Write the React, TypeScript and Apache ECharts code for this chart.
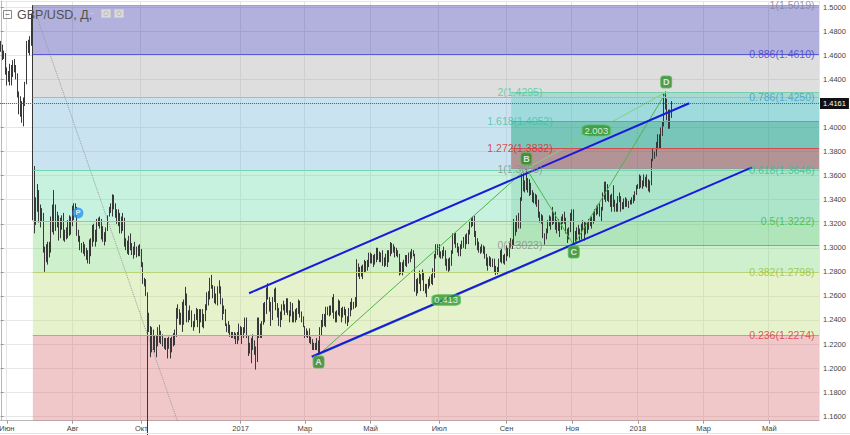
import React, { useEffect, useRef } from "react";
import * as echarts from "echarts";

// ---------- axis structure ----------
const FIRST_DAY_UTC = Date.UTC(2016, 4, 26); // first weekday slot: 2016-05-26
const SLOT_COUNT = 536; // weekday slots on the time axis (incl. empty future)
const Y_MIN = 1.15622;
const Y_MAX = 1.50524;

const tickMonths = ["2016-06", "2016-08", "2016-10", "2017-01", "2017-03", "2017-05", "2017-07", "2017-09", "2017-11", "2018-01", "2018-03", "2018-05"];
const tickLabels = ["Июн", "Авг", "Окт", "2017", "Мар", "Май", "Июл", "Сен", "Ноя", "2018", "Мар", "Май"];

// ---------- daily bars: close, high, low (x10000); open = previous close ----------
const firstOpen = 14640;
const dailyCHL: number[] = [
  /* 2016-05-26 */ 14660, 14720, 14630, 14590, 14690, 14560,
  /* 2016-05-30 */ 14610, 14640, 14570, 14480, 14620, 14440, 14410, 14500, 14350, 14430, 14470, 14380, 14520, 14530, 14350,
  /* 2016-06-06 */ 14430, 14520, 14350, 14510, 14560, 14420, 14500, 14570, 14460, 14440, 14520, 14400, 14260, 14450, 14250,
  /* 2016-06-13 */ 14240, 14300, 14110, 14120, 14260, 14090, 14200, 14220, 14040, 14190, 14250, 14010, 14360, 14380, 14180,
  /* 2016-06-20 */ 14690, 14720, 14550, 14680, 14730, 14620, 14720, 14760, 14600, 14880, 14950, 14680, 13680, 15019, 13229,
  /* 2016-06-27 */ 13220, 13680, 13120, 13370, 13420, 13190, 13430, 13530, 13300, 13310, 13480, 13210, 13280, 13360, 13170,
  /* 2016-07-04 */ 13280, 13330, 13220, 13000, 13290, 12960, 12940, 13010, 12800, 12920, 13030, 12880, 12950, 13050, 12860,
  /* 2016-07-11 */ 12990, 13050, 12920, 13250, 13260, 12960, 13170, 13360, 13130, 13340, 13480, 13110, 13190, 13360, 13140,
  /* 2016-07-18 */ 13250, 13300, 13170, 13100, 13270, 13060, 13220, 13250, 13080, 13220, 13270, 13150, 13110, 13290, 13060,
  /* 2016-07-25 */ 13130, 13150, 13050, 13120, 13170, 13070, 13200, 13230, 13080, 13150, 13270, 13100, 13230, 13260, 13110,
  /* 2016-08-01 */ 13230, 13350, 13180, 13340, 13370, 13230, 13330, 13370, 13260, 13140, 13340, 13100, 13100, 13150, 13050,
  /* 2016-08-08 */ 13040, 13100, 12980, 13010, 13040, 12960, 12980, 13050, 12950, 12970, 13030, 12930, 12950, 13000, 12900,
  /* 2016-08-15 */ 12920, 12980, 12870, 13060, 13070, 12866, 13020, 13080, 12930, 13180, 13190, 13010, 13070, 13200, 13050,
  /* 2016-08-22 */ 13070, 13150, 13010, 13230, 13240, 13050, 13220, 13250, 13180, 13220, 13260, 13160, 13170, 13240, 13070,
  /* 2016-08-29 */ 13080, 13180, 13050, 13080, 13130, 13020, 13150, 13170, 13050, 13260, 13270, 13140, 13300, 13340, 13260,
  /* 2016-09-05 */ 13320, 13370, 13290, 13420, 13445, 13260, 13340, 13440, 13320, 13300, 13370, 13250, 13270, 13320, 13200,
  /* 2016-09-12 */ 13260, 13320, 13180, 13170, 13290, 13120, 13250, 13260, 13120, 13240, 13290, 13140, 13060, 13250, 13010,
  /* 2016-09-19 */ 13040, 13080, 12980, 12990, 13060, 12950, 13030, 13100, 12940, 13030, 13120, 12980, 12970, 13040, 12940,
  /* 2016-09-26 */ 12990, 13010, 12910, 12980, 13050, 12940, 12970, 13010, 12920, 12970, 13020, 12930, 12970, 13030, 12930,
  /* 2016-10-03 */ 12850, 12990, 12840, 12710, 12880, 12700, 12720, 12750, 12680, 12610, 12740, 12600, 12430, 12630, 11425,
  /* 2016-10-10 */ 12340, 12460, 12300, 12190, 12350, 12090, 12300, 12340, 12130, 12190, 12320, 12150, 12190, 12270, 12130,
  /* 2016-10-17 */ 12230, 12270, 12090, 12330, 12340, 12180, 12270, 12360, 12210, 12230, 12310, 12200, 12200, 12280, 12180,
  /* 2016-10-24 */ 12220, 12250, 12160, 12180, 12250, 12150, 12230, 12250, 12080, 12200, 12260, 12160, 12140, 12250, 12080,
  /* 2016-10-31 */ 12240, 12260, 12130, 12220, 12290, 12180, 12310, 12320, 12190, 12480, 12500, 12260, 12490, 12530, 12410,
  /* 2016-11-07 */ 12390, 12480, 12360, 12390, 12460, 12360, 12470, 12550, 12300, 12520, 12570, 12360, 12590, 12675, 12530,
  /* 2016-11-14 */ 12460, 12620, 12380, 12440, 12480, 12380, 12470, 12520, 12400, 12390, 12480, 12340, 12340, 12390, 12310,
  /* 2016-11-21 */ 12420, 12450, 12340, 12460, 12500, 12400, 12360, 12490, 12340, 12470, 12490, 12290, 12470, 12490, 12380,
  /* 2016-11-28 */ 12370, 12490, 12340, 12420, 12450, 12330, 12500, 12530, 12390, 12620, 12630, 12480, 12580, 12640, 12520,
  /* 2016-12-05 */ 12720, 12750, 12570, 12680, 12775, 12660, 12630, 12690, 12580, 12580, 12680, 12540, 12550, 12620, 12530,
  /* 2016-12-12 */ 12640, 12680, 12520, 12650, 12730, 12620, 12580, 12680, 12530, 12480, 12560, 12400, 12490, 12520, 12450,
  /* 2016-12-19 */ 12360, 12490, 12350, 12330, 12370, 12300, 12350, 12390, 12290, 12270, 12360, 12260, 12280, 12300, 12250,
  /* 2016-12-26 */ 12270, 12300, 12250, 12290, 12300, 12240, 12230, 12290, 12200, 12270, 12300, 12200, 12340, 12370, 12230,
  /* 2017-01-02 */ 12280, 12350, 12270, 12270, 12340, 12200, 12290, 12340, 12250, 12410, 12420, 12300, 12270, 12420, 12250,
  /* 2017-01-09 */ 12180, 12240, 12100, 12170, 12210, 12120, 12190, 12250, 12040, 12170, 12280, 12150, 12180, 12230, 12110,
  /* 2017-01-16 */ 12060, 12090, 11987, 12400, 12420, 12050, 12290, 12420, 12250, 12340, 12370, 12250, 12370, 12390, 12250,
  /* 2017-01-23 */ 12540, 12540, 12360, 12470, 12550, 12380, 12660, 12670, 12450, 12590, 12705, 12570, 12540, 12590, 12470,
  /* 2017-01-30 */ 12410, 12550, 12350, 12580, 12590, 12400, 12620, 12660, 12550, 12510, 12670, 12480, 12490, 12540, 12420,
  /* 2017-02-06 */ 12400, 12500, 12350, 12460, 12470, 12340, 12500, 12530, 12400, 12500, 12560, 12480, 12500, 12530, 12440,
  /* 2017-02-13 */ 12570, 12580, 12460, 12460, 12580, 12440, 12460, 12480, 12380, 12520, 12550, 12430, 12410, 12540, 12380,
  /* 2017-02-20 */ 12430, 12470, 12380, 12460, 12490, 12380, 12460, 12500, 12400, 12550, 12570, 12450, 12470, 12560, 12420,
  /* 2017-02-27 */ 12410, 12470, 12380, 12350, 12430, 12340, 12300, 12350, 12250, 12290, 12330, 12260, 12290, 12310, 12250,
  /* 2017-03-06 */ 12230, 12330, 12210, 12210, 12260, 12200, 12170, 12240, 12150, 12170, 12210, 12150, 12160, 12210, 12150,
  /* 2017-03-13 */ 12200, 12250, 12150, 12120, 12230, 12109, 12300, 12340, 12120, 12370, 12400, 12270, 12440, 12450, 12340,
  /* 2017-03-20 */ 12370, 12450, 12350, 12470, 12510, 12340, 12480, 12510, 12440, 12490, 12520, 12430, 12470, 12520, 12440,
  /* 2017-03-27 */ 12580, 12590, 12460, 12460, 12615, 12410, 12400, 12470, 12380, 12450, 12480, 12380, 12550, 12570, 12440,
  /* 2017-04-03 */ 12490, 12560, 12430, 12420, 12500, 12380, 12480, 12510, 12420, 12470, 12510, 12440, 12380, 12490, 12370,
  /* 2017-04-10 */ 12390, 12430, 12350, 12470, 12500, 12380, 12530, 12550, 12430, 12510, 12580, 12480, 12520, 12550, 12490,
  /* 2017-04-17 */ 12570, 12590, 12500, 12840, 12905, 12510, 12800, 12870, 12760, 12810, 12840, 12740, 12830, 12850, 12760,
  /* 2017-04-24 */ 12800, 12860, 12740, 12880, 12900, 12790, 12840, 12890, 12800, 12850, 12900, 12810, 12940, 12960, 12840,
  /* 2017-05-01 */ 12880, 12960, 12870, 12920, 12950, 12870, 12880, 12940, 12840, 12920, 12950, 12860, 12960, 13000, 12880,
  /* 2017-05-08 */ 12940, 13000, 12900, 12930, 12970, 12880, 12940, 12960, 12880, 12870, 12980, 12850, 12880, 12920, 12840,
  /* 2017-05-15 */ 12900, 12950, 12850, 12890, 12980, 12840, 12950, 12980, 12880, 13000, 13048, 12930, 13030, 13040, 12950,
  /* 2017-05-22 */ 12990, 13030, 12960, 12960, 13010, 12920, 12970, 13000, 12930, 12940, 12980, 12920, 12800, 12950, 12770,
  /* 2017-05-29 */ 12850, 12880, 12780, 12860, 12880, 12770, 12880, 12900, 12800, 12890, 12940, 12850, 12890, 12940, 12840,
  /* 2017-06-05 */ 12920, 12960, 12870, 12940, 12970, 12880, 12950, 12990, 12910, 12950, 12980, 12930, 12740, 12950, 12635,
  /* 2017-06-12 */ 12650, 12700, 12600, 12740, 12750, 12620, 12750, 12810, 12700, 12760, 12780, 12640, 12780, 12820, 12730,
  /* 2017-06-19 */ 12660, 12800, 12640, 12630, 12700, 12620, 12680, 12700, 12590, 12730, 12740, 12660, 12720, 12760, 12680,
  /* 2017-06-26 */ 12730, 12780, 12700, 12780, 12830, 12690, 12930, 12950, 12750, 12990, 13030, 12910, 13020, 13030, 12940,
  /* 2017-07-03 */ 12940, 13030, 12920, 12940, 12970, 12910, 12950, 12980, 12910, 12960, 13010, 12930, 12880, 12980, 12850,
  /* 2017-07-10 */ 12870, 12910, 12810, 12850, 12910, 12800, 12870, 12920, 12810, 12970, 12980, 12850, 13100, 13120, 12950,
  /* 2017-07-17 */ 13040, 13120, 13030, 13010, 13125, 13000, 12990, 13040, 12960, 12960, 13010, 12930, 12990, 13030, 12930,
  /* 2017-07-24 */ 13040, 13060, 12990, 13030, 13090, 13000, 13070, 13110, 12990, 13070, 13120, 13030, 13140, 13150, 13030,
  /* 2017-07-31 */ 13200, 13220, 13110, 13210, 13250, 13170, 13240, 13260, 13180, 13130, 13267, 13090, 13040, 13140, 13020,
  /* 2017-08-07 */ 13050, 13080, 12980, 12990, 13050, 12960, 12990, 13010, 12950, 12990, 13030, 12960, 13010, 13020, 12950,
  /* 2017-08-14 */ 12930, 13010, 12910, 12880, 12950, 12850, 12880, 12920, 12810, 12870, 12930, 12850, 12870, 12920, 12840,
  /* 2017-08-21 */ 12890, 12910, 12840, 12810, 12910, 12790, 12800, 12850, 12773, 12790, 12840, 12780, 12890, 12910, 12790,
  /* 2017-08-28 */ 12950, 12980, 12880, 12940, 12990, 12870, 12920, 12940, 12870, 12930, 12950, 12860, 12960, 13020, 12890,
  /* 2017-09-04 */ 12970, 13000, 12930, 13030, 13040, 12920, 13040, 13080, 13000, 13020, 13070, 12990, 13190, 13240, 13030,
  /* 2017-09-11 */ 13140, 13220, 13100, 13260, 13270, 13130, 13200, 13290, 13160, 13400, 13420, 13160, 13590, 13615, 13390,
  /* 2017-09-18 */ 13510, 13620, 13470, 13500, 13560, 13460, 13490, 13658, 13480, 13530, 13580, 13460, 13470, 13570, 13430,
  /* 2017-09-25 */ 13460, 13540, 13440, 13460, 13480, 13380, 13390, 13460, 13370, 13410, 13450, 13360, 13400, 13440, 13340,
  /* 2017-10-02 */ 13260, 13400, 13250, 13260, 13300, 13210, 13270, 13280, 13200, 13100, 13260, 13080, 13070, 13120, 13027,
  /* 2017-10-09 */ 13140, 13160, 13070, 13190, 13230, 13120, 13230, 13270, 13180, 13190, 13260, 13150, 13280, 13340, 13240,
  /* 2017-10-16 */ 13270, 13300, 13200, 13180, 13300, 13150, 13190, 13230, 13120, 13170, 13240, 13140, 13200, 13220, 13090,
  /* 2017-10-23 */ 13240, 13260, 13150, 13260, 13280, 13200, 13230, 13300, 13200, 13140, 13250, 13120, 13130, 13160, 13040,
  /* 2017-10-30 */ 13140, 13170, 13070, 13280, 13290, 13130, 13270, 13320, 13220, 13050, 13320, 13023, 13080, 13140, 13030,
  /* 2017-11-06 */ 13160, 13170, 13050, 13150, 13190, 13110, 13120, 13160, 13060, 13180, 13200, 13070, 13190, 13230, 13140,
  /* 2017-11-13 */ 13110, 13220, 13060, 13170, 13210, 13110, 13190, 13220, 13120, 13200, 13240, 13150, 13240, 13260, 13180,
  /* 2017-11-20 */ 13230, 13260, 13160, 13280, 13300, 13200, 13300, 13320, 13220, 13320, 13350, 13270, 13340, 13360, 13280,
  /* 2017-11-27 */ 13290, 13370, 13260, 13330, 13340, 13220, 13430, 13460, 13310, 13530, 13550, 13400, 13480, 13550, 13380,
  /* 2017-12-04 */ 13430, 13530, 13390, 13410, 13480, 13380, 13390, 13440, 13340, 13430, 13450, 13300, 13390, 13520, 13340,
  /* 2017-12-11 */ 13330, 13400, 13300, 13350, 13370, 13300, 13420, 13430, 13300, 13410, 13460, 13380, 13330, 13430, 13300,
  /* 2017-12-18 */ 13370, 13380, 13320, 13400, 13410, 13320, 13370, 13420, 13340, 13370, 13410, 13340, 13370, 13390, 13330,
  /* 2017-12-25 */ 13390, 13400, 13360, 13400, 13420, 13360, 13410, 13440, 13370, 13450, 13470, 13390, 13500, 13520, 13440,
  /* 2018-01-01 */ 13520, 13530, 13490, 13590, 13610, 13490, 13520, 13600, 13500, 13550, 13560, 13490, 13570, 13610, 13510,
  /* 2018-01-08 */ 13570, 13590, 13510, 13540, 13610, 13500, 13530, 13570, 13470, 13540, 13560, 13460, 13720, 13740, 13520,
  /* 2018-01-15 */ 13790, 13830, 13720, 13790, 13800, 13740, 13820, 13880, 13760, 13900, 13945, 13820, 13860, 13943, 13830,
  /* 2018-01-22 */ 13990, 14000, 13830, 14020, 14050, 13930, 14270, 14280, 14010, 14170, 14300, 14150, 14150, 14240, 14060,
  /* 2018-01-29 */ 14040, 14150, 13990, 14120, 14150, 13990, 14161, 14220, 14080,
];
const lastPrice = 1.4161;

// ---------- Fibonacci retracement (Brexit high -> flash-crash low) ----------
const fibRetLevels = ["1", "0.886", "0.786", "0.618", "0.5", "0.382", "0.236", "0"];
const fibRetPrices = [1.5019, 1.461, 1.425, 1.3646, 1.3222, 1.2798, 1.2274, 1.1425];
const fibRetStartIdx = 21;
const fibRetEndIdx = 119.3;
// ---------- Fibonacci extension (A-B-C) ----------
const fibExtLevels = ["0", "1", "1.272", "1.618", "2"];
const fibExtPrices = [1.3023, 1.3658, 1.3832, 1.4052, 1.4295];
const fibExtStartIdx = 334;

// ---------- trend channel ----------
const channelUpper = [[162.5, 1.2622], [450.6, 1.4202]];
const channelLower = [[203.5, 1.2094], [491.6, 1.3669]];

// ---------- ABCD pattern ----------
const abcdNames = ["A", "B", "C", "D"];
const abcdIdx = [208, 344, 375, 435.5];
const abcdPrices = [1.2109, 1.3658, 1.3023, 1.4295];
const abcdRatios = ["0.413", "2.003"];
const pivotMark = [50.5, 1.329];

// ---------- styles ----------
const FONT = "'Liberation Sans', Arial, sans-serif";
const fibRetFill = ["rgba(63,58,170,0.4)", "rgba(173,173,173,0.4)", "rgba(123,185,218,0.4)", "rgba(118,223,178,0.4)", "rgba(133,218,128,0.4)", "rgba(190,223,125,0.4)", "rgba(220,118,120,0.4)"];
const fibRetLine = ["#a0a0c0", "#5a5ad6", "#86c4e0", "#76d6ae", "#86d486", "#b8d476", "#e09090"];
const fibRetText = ["#8080a0", "#3a3ac8", "#3e9cc6", "#30c090", "#3cb83c", "#98c02c", "#d83434"];
const fibExtFill = ["rgba(60,180,110,0.2)", "rgba(150,50,40,0.45)", "rgba(20,160,120,0.45)", "rgba(60,200,180,0.3)"];
const fibExtLine = ["#9a9a9a", "#9a9a9a", "#d05050", "#40b8a0", "#70d0a8"];
const fibExtText = ["#8c8c8c", "#8c8c8c", "#e02424", "#3cc4a4", "#4cc89c"];
const fibRetLabelIdx = 532.9; // right-aligned label anchor
const fibExtLabelIdx = 339.8; // centered label anchor

function buildOption() {
  const dates: string[] = [];
  const d = new Date(FIRST_DAY_UTC);
  while (dates.length < SLOT_COUNT) {
    const w = d.getUTCDay();
    if (w !== 0 && w !== 6) dates.push(d.toISOString().slice(0, 10));
    d.setUTCDate(d.getUTCDate() + 1);
  }
  const tickAt = new Map<number, string>();
  tickMonths.forEach((m, k) => {
    const i = dates.findIndex((s) => s.startsWith(m));
    if (i >= 0) tickAt.set(i, tickLabels[k]);
  });
  const isTick = (i: number) => tickAt.has(i);

  const ohlc: number[][] = [];
  let prev = firstOpen;
  for (let i = 0; i + 2 < dailyCHL.length; i += 3) {
    const c = dailyCHL[i], h = dailyCHL[i + 1], l = dailyCHL[i + 2];
    const o = prev;
    ohlc.push([o / 1e4, c / 1e4, Math.min(l, o, c) / 1e4, Math.max(h, o, c) / 1e4]);
    prev = c;
  }
  const xEnd = SLOT_COUNT - 0.5;

  const zones: any[] = [];
  for (let k = 0; k < fibRetPrices.length - 1; k++) {
    zones.push([
      { coord: [fibRetStartIdx, fibRetPrices[k]], itemStyle: { color: fibRetFill[k] } },
      { coord: [xEnd, fibRetPrices[k + 1]] },
    ]);
  }
  for (let k = 0; k < fibExtPrices.length - 1; k++) {
    zones.push([
      { coord: [fibExtStartIdx, fibExtPrices[k]], itemStyle: { color: fibExtFill[k] } },
      { coord: [xEnd, fibExtPrices[k + 1]] },
    ]);
  }
  const levelLines: any[] = [];
  fibRetPrices.slice(0, 7).forEach((p, k) => {
    levelLines.push([{ coord: [fibRetStartIdx, p], lineStyle: { color: fibRetLine[k], width: 1, type: "solid" } }, { coord: [xEnd, p] }]);
  });
  fibExtPrices.forEach((p, k) => {
    levelLines.push([{ coord: [fibExtStartIdx, p], lineStyle: { color: fibExtLine[k], width: 1, type: "solid" } }, { coord: [xEnd, p] }]);
  });

  const retLabels = fibRetPrices
    .map((p, k) => ({ p, k }))
    .filter(({ p }) => p > Y_MIN)
    .map(({ p, k }) => ({
      value: [fibRetLabelIdx, p],
      label: { formatter: `${fibRetLevels[k]}(${p.toFixed(4)})`, color: fibRetText[k] },
    }));
  const extLabels = fibExtPrices.map((p, k) => ({
    value: [fibExtLabelIdx, p],
    label: { formatter: `${fibExtLevels[k]}(${p.toFixed(4)})`, color: fibExtText[k] },
  }));

  const abcdPts = abcdIdx.map((x, k) => [x, abcdPrices[k]]);
  const ratioPts = [
    { value: [(abcdIdx[0] + abcdIdx[2]) / 2, (abcdPrices[0] + abcdPrices[2]) / 2], name: abcdRatios[0] },
    { value: [(abcdIdx[1] + abcdIdx[3]) / 2, (abcdPrices[1] + abcdPrices[3]) / 2], name: abcdRatios[1] },
  ];

  const lineSeries = (data: number[][], color: string, width: number, z: number, type = "solid", opacity = 1) => ({
    type: "line",
    xAxisIndex: 1,
    yAxisIndex: 0,
    data,
    symbol: "none",
    silent: true,
    z,
    lineStyle: { color, width, type, opacity },
  });

  return {
    animation: false,
    backgroundColor: "#ffffff",
    textStyle: { fontFamily: FONT },
    grid: { left: 0, right: 31, top: 1, bottom: 14.3, containLabel: false, outerBoundsMode: "none" },
    xAxis: [
      {
        type: "category",
        data: dates,
        boundaryGap: true,
        axisLine: { show: true, lineStyle: { color: "#b8b8b8" } },
        axisTick: { show: true, alignWithLabel: true, interval: (i: number) => isTick(i), length: 3, lineStyle: { color: "#999" } },
        axisLabel: {
          interval: (i: number) => isTick(i),
          formatter: (_v: string, i: number) => tickAt.get(i) || "",
          fontSize: 7.5,
          color: "#444",
          margin: 4,
          fontFamily: FONT,
        },
        splitLine: { show: true, interval: (i: number) => isTick(i), lineStyle: { color: "#e6e6e6" } },
      },
      { type: "value", min: -0.5, max: xEnd, show: false },
    ],
    yAxis: {
      type: "value",
      position: "right",
      min: Y_MIN,
      max: Y_MAX,
      splitNumber: 17,
      minInterval: 0.02,
      maxInterval: 0.02,
      axisLine: { show: true, lineStyle: { color: "#b8b8b8" } },
      axisTick: { show: true, length: 3, lineStyle: { color: "#999" } },
      axisLabel: {
        fontSize: 7.5,
        color: "#444",
        margin: 4,
        fontFamily: FONT,
        showMinLabel: false,
        showMaxLabel: false,
        formatter: (v: number) => v.toFixed(4),
      },
      splitLine: { show: true, lineStyle: { color: "#e6e6e6" } },
    },
    series: [
      {
        type: "line",
        xAxisIndex: 1,
        yAxisIndex: 0,
        data: [[fibRetStartIdx, fibRetPrices[0]]],
        symbol: "none",
        lineStyle: { opacity: 0 },
        silent: true,
        z: 1,
        markArea: { silent: true, data: zones },
        markLine: { silent: true, symbol: ["none", "none"], label: { show: false }, data: levelLines },
      },
      lineSeries([[fibRetStartIdx, fibRetPrices[0]], [fibRetEndIdx, fibRetPrices[7]]], "#9a9a9a", 1, 2, "dotted"),
      {
        type: "candlestick",
        xAxisIndex: 0,
        yAxisIndex: 0,
        data: ohlc,
        barWidth: "40%",
        z: 3,
        silent: true,
        itemStyle: { color: "#5a5a5a", color0: "#5a5a5a", borderColor: "#383838", borderColor0: "#383838", borderWidth: 1 },
        markLine: {
          silent: true,
          symbol: ["none", "none"],
          data: [{ yAxis: lastPrice }],
          lineStyle: { color: "#666", type: "dotted", width: 1 },
          label: {
            show: true,
            position: "end",
            formatter: lastPrice.toFixed(4),
            color: "#fff",
            backgroundColor: "#111",
            padding: [2, 3, 1, 3],
            fontSize: 7.5,
            distance: 1,
            fontFamily: FONT,
          },
        },
      },
      lineSeries(abcdPts, "#4cb548", 1, 4),
      lineSeries([abcdPts[0], abcdPts[2]], "#62c062", 1, 4),
      lineSeries([abcdPts[1], abcdPts[3]], "#80d080", 1, 4),
      lineSeries(channelUpper, "#1a1adc", 2, 6),
      lineSeries(channelLower, "#1a1adc", 2, 6),
      {
        type: "scatter",
        xAxisIndex: 1,
        yAxisIndex: 0,
        silent: true,
        z: 7,
        symbolSize: 1,
        itemStyle: { color: "rgba(0,0,0,0)" },
        label: { show: true, position: "left", distance: 0, fontSize: 10.5, fontFamily: FONT },
        data: retLabels,
      },
      {
        type: "scatter",
        xAxisIndex: 1,
        yAxisIndex: 0,
        silent: true,
        z: 7,
        symbolSize: 1,
        itemStyle: { color: "rgba(0,0,0,0)" },
        label: { show: true, position: "inside", fontSize: 10.5, fontFamily: FONT },
        data: extLabels,
      },
      {
        type: "scatter",
        xAxisIndex: 1,
        yAxisIndex: 0,
        silent: true,
        z: 9,
        symbol: "roundRect",
        symbolSize: [28, 11],
        itemStyle: { color: "#2f9a2f", borderColor: "#5cbc5c", borderWidth: 1 },
        label: { show: true, position: "inside", color: "#fff", fontSize: 9.5, formatter: (p: any) => p.name, fontFamily: FONT },
        data: ratioPts,
      },
      {
        type: "scatter",
        xAxisIndex: 1,
        yAxisIndex: 0,
        silent: true,
        z: 9,
        symbol: "roundRect",
        symbolSize: [11, 12],
        itemStyle: { color: "#2b8a2b", borderColor: "#5cb85c", borderWidth: 1 },
        label: { show: true, position: "inside", color: "#fff", fontSize: 9, fontWeight: "bold", formatter: (p: any) => p.name, fontFamily: FONT },
        data: abcdNames.map((n, k) => ({ name: n, value: abcdPts[k], symbolOffset: [0, k % 2 === 0 ? 7 : -10] })),
      },
      {
        type: "scatter",
        xAxisIndex: 1,
        yAxisIndex: 0,
        silent: true,
        z: 9,
        symbol: "circle",
        symbolSize: 11,
        itemStyle: { color: "#2196f3" },
        label: { show: true, position: "inside", color: "#fff", fontSize: 8, fontWeight: "bold", formatter: "P", fontFamily: FONT },
        data: [pivotMark],
      },
    ],
    graphic: [
      { type: "rect", shape: { x: 3.5, y: 10.5, width: 8, height: 8 }, style: { fill: "none", stroke: "#888", lineWidth: 1 }, z: 20 },
      { type: "line", shape: { x1: 5.5, y1: 14.5, x2: 9.5, y2: 14.5 }, style: { stroke: "#888", lineWidth: 1 }, z: 20 },
      { type: "text", x: 17, y: 14.5, style: { text: "GBP/USD, Д,", fontSize: 12.5, fill: "#505050", verticalAlign: "middle", fontFamily: FONT }, z: 20 },
      { type: "line", shape: { x1: 90, y1: 13.5, x2: 94, y2: 13.5 }, style: { stroke: "#c8c8c8", lineWidth: 1 }, z: 20 },
      { type: "rect", shape: { x: 101.5, y: 9.5, width: 9, height: 8 }, style: { fill: "#dadada", stroke: "#cccccc" }, z: 20 },
      { type: "circle", shape: { cx: 106, cy: 13.5, r: 2.2 }, style: { fill: "none", stroke: "#bbbbbb" }, z: 21 },
      { type: "rect", shape: { x: 114.5, y: 9.5, width: 9, height: 8 }, style: { fill: "#dadada", stroke: "#cccccc" }, z: 20 },
      { type: "circle", shape: { cx: 119, cy: 13.5, r: 2.2 }, style: { fill: "none", stroke: "#bbbbbb" }, z: 21 },
      { type: "line", shape: { x1: 0, y1: 433.5, x2: 850, y2: 433.5 }, style: { stroke: "#e4e4e4", lineWidth: 1 }, z: 20 },
    ],
  };
}

export default function App() {
  const ref = useRef<HTMLDivElement>(null);
  useEffect(() => {
    if (!ref.current) return;
    const chart = echarts.init(ref.current, null, { renderer: "svg" });
    chart.setOption(buildOption() as any);
    return () => chart.dispose();
  }, []);
  return (
    <div
      ref={ref}
      style={{ position: "fixed", left: 0, top: 0, width: 850, height: 435, background: "#ffffff" }}
    />
  );
}
